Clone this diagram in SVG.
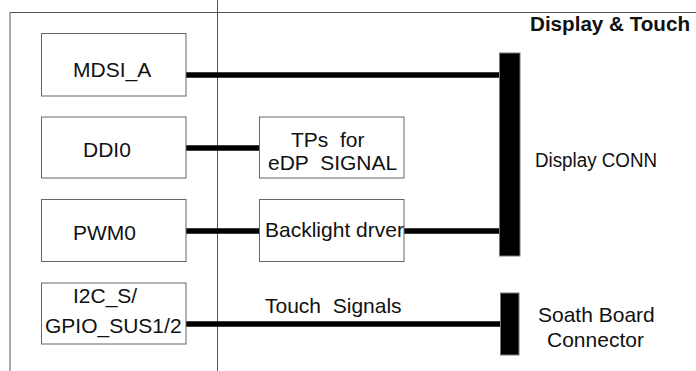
<svg xmlns="http://www.w3.org/2000/svg" width="696" height="371" viewBox="0 0 696 371">
<style>
.frame{stroke:#555;stroke-width:1;fill:none}
.box{fill:#fff;stroke:#666;stroke-width:1}
.bar{fill:#000;stroke:#777;stroke-width:1}
.wire{stroke:#000;stroke-width:5.5;fill:none;stroke-linecap:round}
text{font-family:"Liberation Sans",Arial,sans-serif;font-size:21px;fill:#111;white-space:pre}
.title{font-weight:bold;font-size:19.5px}
</style>
<rect width="696" height="371" fill="#fff"/>
<g id="frame">
<line class="frame" x1="10" y1="12.5" x2="696" y2="12.5"/>
<line class="frame" x1="10" y1="12.5" x2="10" y2="371"/>
<line class="frame" x1="217.5" y1="0" x2="217.5" y2="371"/>
</g>
<text class="title" x="530" y="31" textLength="160" lengthAdjust="spacingAndGlyphs">Display &amp; Touch</text>
<g id="connectors">
<line class="wire" x1="186" y1="75" x2="500" y2="75"/>
<line class="wire" x1="186" y1="148" x2="259" y2="148"/>
<line class="wire" x1="186" y1="231" x2="259" y2="231"/>
<line class="wire" x1="404" y1="231" x2="500" y2="231"/>
<line class="wire" x1="186" y1="324" x2="500" y2="324"/>
</g>
<g id="mdsi_a"><rect class="box" x="41.5" y="33.5" width="144.5" height="62.5"/><text x="73" y="77">MDSI_A</text></g>
<g id="ddi0"><rect class="box" x="41.5" y="117" width="144.5" height="61"/><text x="83" y="156.5">DDI0</text></g>
<g id="pwm0"><rect class="box" x="41.5" y="199.5" width="144.5" height="62"/><text x="73" y="240">PWM0</text></g>
<g id="i2c"><rect class="box" x="41.5" y="283" width="144.5" height="61"/><text x="73" y="302.5">I2C_S/</text><text x="45" y="333">GPIO_SUS1/2</text></g>
<g id="tps"><rect class="box" x="259.5" y="117" width="144.5" height="61"/><text x="291" y="147">TPs  for</text><text x="268" y="170">eDP  SIGNAL</text></g>
<g id="backlight"><rect class="box" x="259.5" y="199.5" width="144.5" height="62"/><text x="265" y="237">Backlight drver</text></g>
<g id="touch_label"><text x="265" y="313">Touch  Signals</text></g>
<g id="display_conn"><rect class="bar" x="499.5" y="53" width="20.5" height="203"/><text x="535" y="167" style="font-size:20px" textLength="122" lengthAdjust="spacingAndGlyphs">Display CONN</text></g>
<g id="south_conn"><rect class="bar" x="500.5" y="293" width="18.5" height="62"/><text x="538" y="322">Soath Board</text><text x="547" y="347">Connector</text></g>
</svg>
